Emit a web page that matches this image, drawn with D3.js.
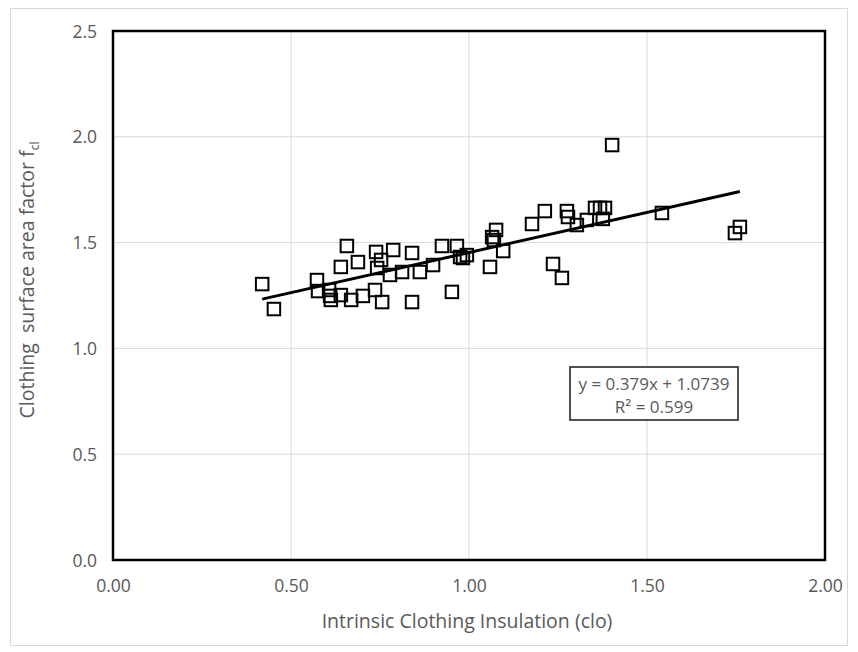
<!DOCTYPE html>
<html>
<head>
<meta charset="utf-8">
<script src="https://cdn.jsdelivr.net/npm/d3@7"></script>
<style>
html,body{margin:0;padding:0;background:#fff;}
svg text{font-family:"Open Sans",sans-serif;fill:#595959;}
</style>
</head>
<body>
<svg id="chart" width="858" height="652"></svg>
<script>
// Data
const clo = [0.419,0.452,0.573,0.576,0.607,0.610,0.612,0.640,0.640,0.657,0.669,0.688,0.702,0.739,0.742,0.736,0.756,0.753,0.778,0.787,0.812,0.840,0.840,0.862,0.899,0.924,0.952,0.966,0.975,0.983,0.994,1.059,1.065,1.070,1.076,1.096,1.177,1.213,1.236,1.261,1.275,1.278,1.303,1.331,1.354,1.368,1.382,1.376,1.402,1.542,1.747,1.761];
const fcl = [1.304,1.186,1.323,1.271,1.276,1.248,1.229,1.252,1.385,1.484,1.229,1.408,1.248,1.456,1.380,1.276,1.219,1.418,1.347,1.465,1.361,1.451,1.219,1.361,1.394,1.484,1.267,1.484,1.432,1.427,1.441,1.385,1.526,1.512,1.560,1.460,1.588,1.649,1.399,1.333,1.649,1.621,1.583,1.607,1.664,1.664,1.664,1.612,1.961,1.640,1.545,1.574];
const xTicks = [0, 0.5, 1.0, 1.5, 2.0];
const yTicks = [0, 0.5, 1.0, 1.5, 2.0, 2.5];
const trendSlope = 0.379, trendIntercept = 1.0739;
const trendRange = [0.419, 1.761];
const eqLines = ["y = 0.379x + 1.0739", "R² = 0.599"];
const xTitle = "Intrinsic Clothing Insulation (clo)";

const svg = d3.select("#chart");
const L = 113, R = 825, T = 31, B = 560;
const x = d3.scaleLinear().domain([0, 2]).range([L, R]);
const y = d3.scaleLinear().domain([0, 2.5]).range([B, T]);

// outer frame
svg.append("rect").attr("x", 10.5).attr("y", 8.5).attr("width", 837).attr("height", 637)
  .attr("fill", "#fff").attr("stroke", "#d9d9d9").attr("stroke-width", 1);

// gridlines
svg.append("g").selectAll("line").data(xTicks.slice(1, -1)).join("line")
  .attr("x1", d => x(d)).attr("x2", d => x(d)).attr("y1", T).attr("y2", B)
  .attr("stroke", "#d9d9d9").attr("stroke-width", 1);
svg.append("g").selectAll("line").data(yTicks.slice(1, -1)).join("line")
  .attr("x1", L).attr("x2", R).attr("y1", d => y(d)).attr("y2", d => y(d))
  .attr("stroke", "#d9d9d9").attr("stroke-width", 1);

// axes (labels only)
const xAxis = svg.append("g").attr("transform", `translate(0,${B})`)
  .call(d3.axisBottom(x).tickValues(xTicks).tickFormat(d3.format(".2f")).tickSize(0).tickPadding(20));
const yAxis = svg.append("g").attr("transform", `translate(${L},0)`)
  .call(d3.axisLeft(y).tickValues(yTicks).tickFormat(d3.format(".1f")).tickSize(0).tickPadding(16));
[xAxis, yAxis].forEach(a => {
  a.select(".domain").remove();
  a.selectAll("text").style("font-size", "17.5px").attr("fill", "#595959");
});
yAxis.selectAll("text").attr("dy", "0.35em");

// equation box
const bx = 570, by = 367, bw = 168, bh = 53;
svg.append("rect").attr("x", bx).attr("y", by).attr("width", bw).attr("height", bh)
  .attr("fill", "#fff").attr("stroke", "#262626").attr("stroke-width", 1.6);
svg.append("g").selectAll("text").data(eqLines).join("text")
  .attr("x", bx + bw / 2).attr("y", (d, i) => by + 23 + i * 23)
  .attr("text-anchor", "middle").style("font-size", "17px").text(d => d);

// trendline
svg.append("line")
  .attr("x1", x(trendRange[0])).attr("y1", y(trendSlope * trendRange[0] + trendIntercept))
  .attr("x2", x(trendRange[1])).attr("y2", y(trendSlope * trendRange[1] + trendIntercept))
  .attr("stroke", "#000").attr("stroke-width", 3);

// points
const s = 12.5;
svg.append("g").selectAll("rect").data(clo.map((c, i) => [c, fcl[i]])).join("rect")
  .attr("x", d => x(d[0]) - s / 2).attr("y", d => y(d[1]) - s / 2)
  .attr("width", s).attr("height", s)
  .attr("fill", "none").attr("stroke", "#000").attr("stroke-width", 2);

// plot border
svg.append("rect").attr("x", L).attr("y", T).attr("width", R - L).attr("height", B - T)
  .attr("fill", "none").attr("stroke", "#000").attr("stroke-width", 2.5);

// titles
svg.append("text").attr("x", (L + R) / 2 - 2).attr("y", 628).attr("text-anchor", "middle")
  .style("font-size", "19.5px").text(xTitle);
const yt = svg.append("text").attr("transform", "translate(34,280) rotate(-90)")
  .attr("text-anchor", "middle").style("font-size", "19.5px");
yt.append("tspan").text("Clothing\u00a0\u00a0surface area factor f");
yt.append("tspan").attr("dy", 5).style("font-size", "12px").text("cl");
</script>
</body>
</html>
